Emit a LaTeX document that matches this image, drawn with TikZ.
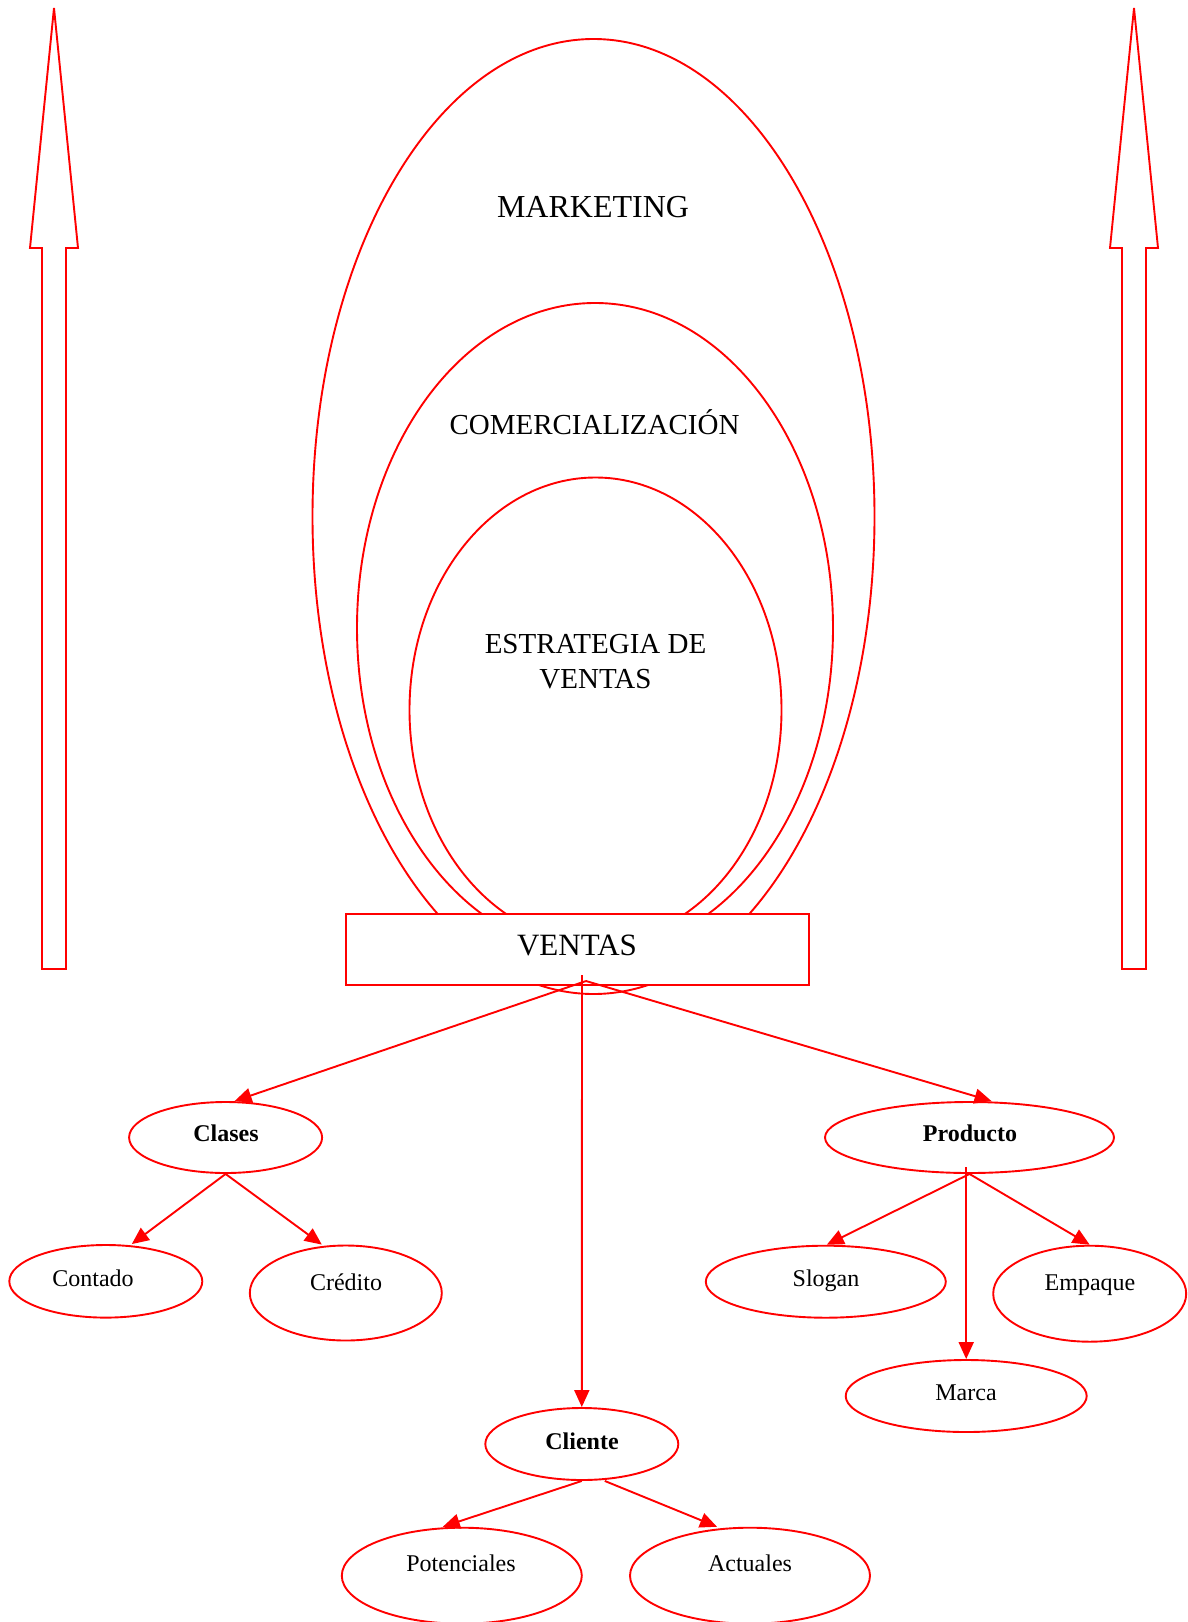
\documentclass[tikz,border=0pt]{standalone}
\usepackage{fontspec}
\setmainfont{Liberation Serif}
\usetikzlibrary{shapes.geometric,arrows.meta}
\tikzset{
  ln/.style={draw=red, line width=1.9pt},
  bigov/.style={ln, ellipse, inner sep=0pt},
  oval/.style={ln, ellipse, inner sep=0pt},
  conn/.style={red, line width=1.9pt, -{Triangle[length=17pt,width=15pt]}},
  bigtxt/.style={anchor=base, inner sep=0pt, font=\fontsize{29}{34}\selectfont},
  smalltxt/.style={anchor=base, inner sep=0pt, font=\fontsize{24}{28}\selectfont},
  boldtxt/.style={smalltxt, font=\fontsize{24}{28}\selectfont\bfseries},
  bigarrow/.style={draw=red, line width=1.9pt, line join=miter}
}
\begin{document}
\begin{tikzpicture}[x=1pt,y=-1pt]
\useasboundingbox (0,0) rectangle (1188,1622);
% outline arrows
\draw[bigarrow] (54,8) -- (78,248) -- (66,248) -- (66,969) -- (42,969) -- (42,248) -- (30,248) -- cycle;
\draw[bigarrow] (1134,8) -- (1158,248) -- (1146,248) -- (1146,969) -- (1122,969) -- (1122,248) -- (1110,248) -- cycle;
% nested ellipses
\node[bigov, minimum width=562pt, minimum height=955pt] (mkt) at (593.5,516.5) {};
\node[bigov, minimum width=476pt, minimum height=650pt] (com) at (595,628) {};
\node[bigov, minimum width=372pt, minimum height=465pt] (est) at (595.5,710) {};
\node[bigtxt, font=\fontsize{32}{36}\selectfont] (tmkt) at (593,217) {MARKETING};
\node[bigtxt] (tcom) at (594.5,434) {COMERCIALIZACIÓN};
\node[bigtxt] (test1) at (595.5,653) {ESTRATEGIA DE};
\node[bigtxt] (test2) at (595.5,688) {VENTAS};
% box
\node[ln, fill=white, rectangle, minimum width=463pt, minimum height=71pt, inner sep=0pt] (ventas) at (577.5,949.5) {};
\node[bigtxt, font=\fontsize{31}{36}\selectfont] (tventas) at (577,955) {VENTAS};
% child ellipses
\node[oval, minimum width=193pt, minimum height=71pt] (clases) at (225.6,1137.5) {};
\node[oval, minimum width=193pt, minimum height=72.6pt] (contado) at (105.8,1281.3) {};
\node[oval, minimum width=192pt, minimum height=95pt] (credito) at (345.8,1293) {};
\node[oval, minimum width=289pt, minimum height=71pt] (producto) at (969.5,1137.5) {};
\node[oval, minimum width=240pt, minimum height=72pt] (slogan) at (825.8,1281.7) {};
\node[oval, minimum width=193pt, minimum height=96pt] (empaque) at (1089.7,1293.7) {};
\node[oval, minimum width=241pt, minimum height=72pt] (marca) at (966.2,1396) {};
\node[oval, minimum width=193pt, minimum height=72pt] (cliente) at (581.8,1444) {};
\node[oval, minimum width=240pt, minimum height=96pt] (potenciales) at (461.8,1575.7) {};
\node[oval, minimum width=240pt, minimum height=96pt] (actuales) at (750,1575.7) {};
% labels
\node[boldtxt] (lclases) at (226,1141.7) {Clases};
\node[smalltxt] (lcontado) at (93,1286) {Contado};
\node[smalltxt] (lcredito) at (346,1290) {Crédito};
\node[boldtxt] (lproducto) at (970,1141.7) {Producto};
\node[smalltxt] (lslogan) at (826,1286) {Slogan};
\node[smalltxt] (lempaque) at (1090,1290) {Empaque};
\node[smalltxt] (lmarca) at (966,1400.7) {Marca};
\node[boldtxt] (lcliente) at (582,1449.5) {Cliente};
\node[smalltxt] (lpot) at (461,1571.7) {Potenciales};
\node[smalltxt] (lact) at (750,1571.7) {Actuales};
% connectors
\coordinate (vb) at (586,981);
\coordinate (vv) at (582,975);
\coordinate (pm) at (966.2,1167);
\draw[conn] (vb) -- ([xshift=9pt]clases.north);
\draw[conn] (vb) -- ([xshift=22pt]producto.north);
\draw[conn] (vv) -- (cliente.north);
\draw[conn] (clases.south) -- ([xshift=26pt]contado.north);
\draw[conn] (clases.south) -- ([xshift=-24pt]credito.north);
\draw[conn] (producto.south) -- ([xshift=1pt]slogan.north);
\draw[conn] (producto.south) -- (empaque.north);
\draw[conn] (pm) -- (marca.north);
\draw[conn] (cliente.south) -- ([xshift=-19pt]potenciales.north);
\draw[conn] ([xshift=23pt]cliente.south) -- ([xshift=-33pt]actuales.north);
\end{tikzpicture}
\end{document}
